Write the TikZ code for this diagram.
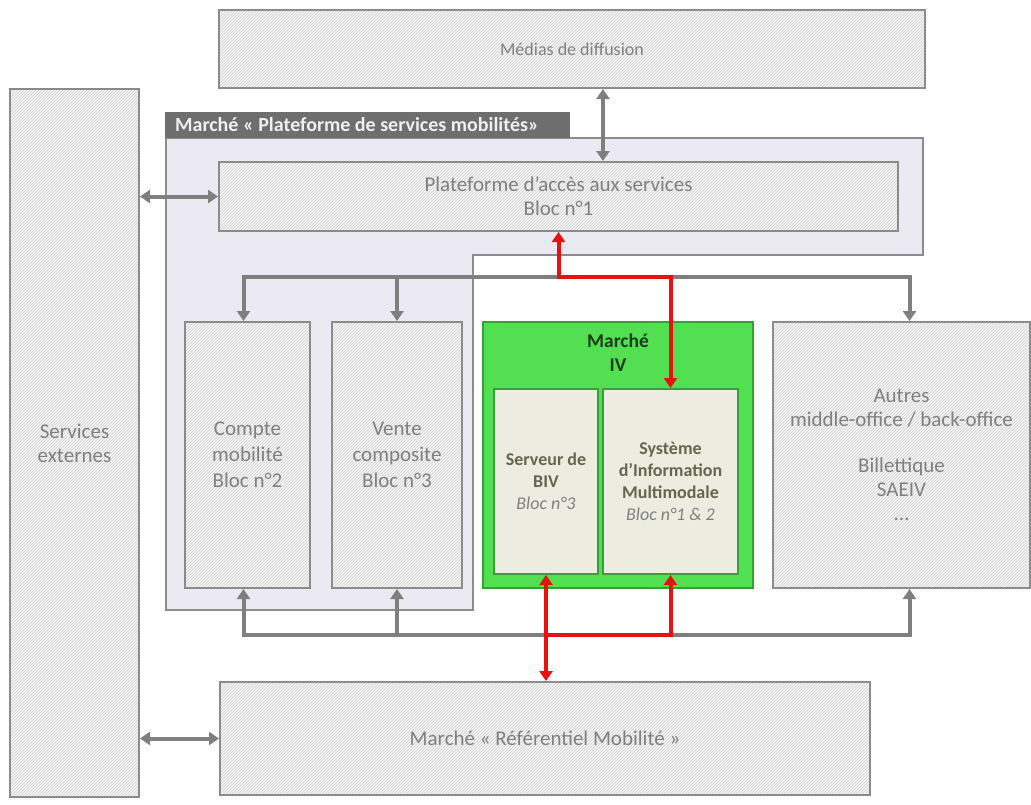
\documentclass[tikz,border=0pt]{standalone}
\usepackage{fontspec}
\setmainfont{Carlito}
\usetikzlibrary{patterns,arrows.meta,calc}
\definecolor{txtg}{HTML}{808080}
\definecolor{boxbd}{HTML}{8C8C8C}
\definecolor{hbg}{HTML}{F4F4F4}
\definecolor{hln}{HTML}{D0D0D0}
\definecolor{lav}{HTML}{EBEAF2}
\definecolor{tabg}{HTML}{6E6E6E}
\definecolor{gfill}{HTML}{52E052}
\definecolor{gbd}{HTML}{38A038}
\definecolor{inbg}{HTML}{ECEDE0}
\definecolor{intxt}{HTML}{66664F}
\definecolor{mivtxt}{HTML}{1E3A1E}
\definecolor{garrc}{HTML}{7F7F7F}
\definecolor{rarrc}{HTML}{E81010}
\tikzset{
  hbox/.style={draw=boxbd, line width=2pt, preaction={fill=hbg}, pattern=north east lines, pattern color=hln, text=txtg, align=center, font=\fontsize{21}{24}\selectfont, inner sep=0pt},
  inbox/.style={draw=gbd, line width=2pt, fill=inbg, text=intxt, align=center, font=\fontsize{18}{22}\selectfont\bfseries, inner sep=0pt},
  garr/.style={draw=garrc, line width=4pt, {Triangle[length=10pt,width=13pt]}-{Triangle[length=10pt,width=13pt]}},
  garrone/.style={draw=garrc, line width=4pt, -{Triangle[length=10pt,width=13pt]}},
  rarr/.style={draw=rarrc, line width=4pt, {Triangle[length=10pt,width=13pt]}-{Triangle[length=10pt,width=13pt]}},
  rarrone/.style={draw=rarrc, line width=4pt, -{Triangle[length=10pt,width=13pt]}},
}
\begin{document}
\begin{tikzpicture}[x=1pt,y=-1pt]
\useasboundingbox (0,0) rectangle (1031,804);
% lavender market area
\draw[draw=boxbd, line width=2pt, fill=lav] (166,138) -- (923,138) -- (923,255) -- (473,255) -- (473,610) -- (166,610) -- cycle;
\node[fill=tabg, anchor=south west, minimum width=405pt, minimum height=26pt, inner sep=0pt] (tab) at (165,138) {};
\node[anchor=west, inner sep=0pt, text=white!94!black, font=\fontsize{20}{24}\selectfont\bfseries] (tablbl) at ([xshift=10pt]tab.west) {Marché « Plateforme de services mobilités»};
% boxes
\node[hbox, minimum width=706pt, minimum height=78pt, font=\fontsize{18}{22}\selectfont] (medias) at (572,49) {Médias de diffusion};
\node[hbox, minimum width=129pt, minimum height=708pt] (ext) at (74.5,443) {Services\\externes};
\node[hbox, minimum width=679pt, minimum height=69pt] (plat) at (558.5,196.5) {Plateforme d’accès aux services\\Bloc n°1};
\node[hbox, minimum width=125pt, minimum height=266pt, font=\fontsize{21}{26}\selectfont] (compte) at (247.5,455) {Compte\\mobilité\\Bloc n°2};
\node[hbox, minimum width=130pt, minimum height=266pt, font=\fontsize{21}{26}\selectfont] (vente) at (397,455) {Vente\\composite\\Bloc n°3};
\node[draw=gbd, line width=2pt, fill=gfill, minimum width=270pt, minimum height=266pt, inner sep=0pt] (miv) at (618,455) {};
\node[text=mivtxt, font=\fontsize{19.5}{24}\selectfont\bfseries, align=center, inner sep=0pt] (mivlbl) at (618,353) {Marché\\IV};
\node[inbox, minimum width=104pt, minimum height=185pt] (serveur) at (546,481.5) {Serveur de\\BIV\\{\mdseries\itshape\color{txtg}Bloc n°3}};
\node[inbox, minimum width=135pt, minimum height=185pt] (sim) at (670.5,481.5) {Système\\d’Information\\Multimodale\\{\mdseries\itshape\color{txtg}Bloc n°1 \& 2}};
\node[hbox, minimum width=257pt, minimum height=266pt, font=\fontsize{21}{24}\selectfont] (autres) at (901.5,455) {Autres\\middle-office / back-office\\[22pt]Billettique\\SAEIV\\…};
\node[hbox, minimum width=650pt, minimum height=113pt] (ref) at (545,738.5) {Marché « Référentiel Mobilité »};
% bus coordinates
\coordinate (bt) at (0,277);
\coordinate (bb) at (0,635);
\coordinate (mx) at (603,0);
% grey connectors
\draw[garr] (mx |- plat.north) -- (mx |- medias.south);
\draw[garr] (ext.east |- plat.west) -- (plat.west);
\draw[garr] (ext.east |- ref.west) -- (ref.west);
\draw[garr] ([xshift=-4pt]compte.north) -- ([xshift=-4pt]compte.north |- bt) -- ([xshift=8pt]autres.north |- bt) -- ([xshift=8pt]autres.north);
\draw[garrone] (vente.north |- bt) -- (vente.north);
\draw[garr] ([xshift=-4pt]compte.south) -- ([xshift=-4pt]compte.south |- bb) -- ([xshift=8pt]autres.south |- bb) -- ([xshift=8pt]autres.south);
\draw[garrone] (vente.south |- bb) -- (vente.south);
% red connectors
\draw[rarr] (plat.south) -- (plat.south |- bt) -| (sim.north);
\draw[rarr] (serveur.south) -- (serveur.south |- ref.north);
\draw[rarrone] (serveur.south |- bb) -| (sim.south);
\end{tikzpicture}
\end{document}
